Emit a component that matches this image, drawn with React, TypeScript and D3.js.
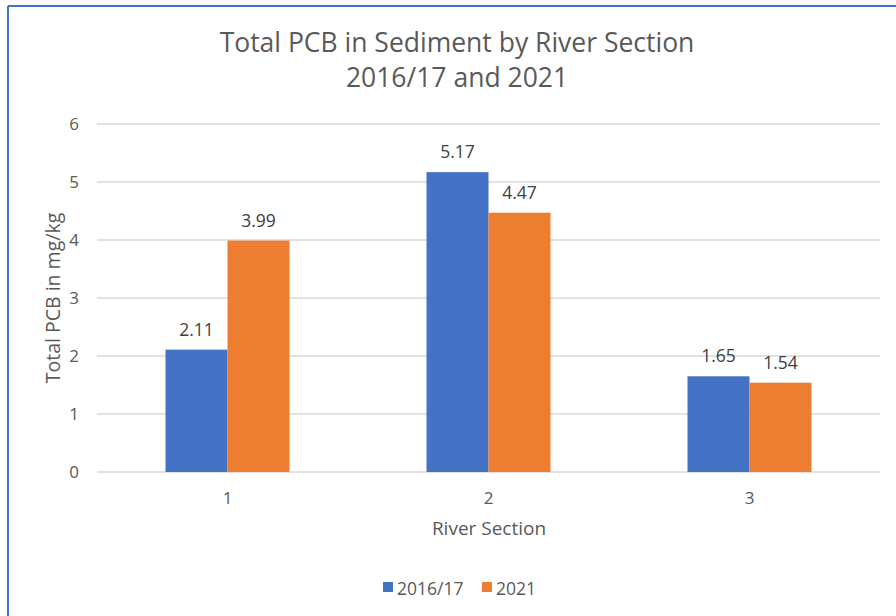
import React from "react";
import * as d3 from "d3";

const categories = ["1", "2", "3"];
const seriesNames = ["2016/17", "2021"];
const values2016 = [2.11, 5.17, 1.65];
const values2021 = [3.99, 4.47, 1.54];
const yTicks = [0, 1, 2, 3, 4, 5, 6];
const colors = ["#4472C4", "#ED7D31"];

const W = 896;
const H = 616;
const FONT = "'Open Sans', 'Noto Sans', sans-serif";
const TXT = "#595959";

export default function App() {
  const left = 97, right = 880, top = 124, bottom = 472;
  const x = d3.scaleBand<string>().domain(categories).range([left, right]).paddingInner(0).paddingOuter(0);
  const y = d3.scaleLinear().domain([0, 6]).range([bottom, top]);
  const barW = 62;
  const series = [values2016, values2021];

  return (
    <svg width={W} height={H} style={{ position: "absolute", left: 0, top: 0 }}>
      <rect x={0} y={0} width={W} height={H} fill="#fff" />
      <line x1={8} y1={6} x2={W} y2={6} stroke="#4472C4" strokeWidth={2} />
      <line x1={8} y1={6} x2={8} y2={H} stroke="#4472C4" strokeWidth={2} />
      <text x={457} y={52} textAnchor="middle" fontFamily={FONT} fontSize={26.5} fill={TXT}>
        Total PCB in Sediment by River Section
      </text>
      <text x={457} y={87} textAnchor="middle" fontFamily={FONT} fontSize={26.5} fill={TXT}>
        2016/17 and 2021
      </text>
      {yTicks.map((t) => (
        <g key={t}>
          <line x1={left} x2={right} y1={y(t)} y2={y(t)} stroke="#D9D9D9" strokeWidth={1.3} />
          <text x={79} y={y(t) + 6} textAnchor="end" fontFamily={FONT} fontSize={17} fill={TXT}>
            {t}
          </text>
        </g>
      ))}
      {categories.map((c, i) => {
        const cx = (x(c) as number) + x.bandwidth() / 2;
        return (
          <g key={c}>
            {series.map((s, j) => {
              const bx = cx - barW + j * barW;
              return (
                <g key={j}>
                  <rect x={bx} y={y(s[i])} width={barW} height={bottom - y(s[i])} fill={colors[j]} />
                  <text x={bx + barW / 2} y={y(s[i]) - 14} textAnchor="middle" fontFamily={FONT} fontSize={17.5} fill="#404040">
                    {s[i].toFixed(2)}
                  </text>
                </g>
              );
            })}
            <text x={cx} y={504} textAnchor="middle" fontFamily={FONT} fontSize={17} fill={TXT}>
              {c}
            </text>
          </g>
        );
      })}
      <text x={489} y={535} textAnchor="middle" fontFamily={FONT} fontSize={19} fill={TXT}>
        River Section
      </text>
      <text transform={`translate(60,298) rotate(-90)`} textAnchor="middle" fontFamily={FONT} fontSize={19.5} fill={TXT}>
        Total PCB in mg/kg
      </text>
      {seriesNames.map((n, j) => {
        const lx = j === 0 ? 383 : 482;
        return (
          <g key={n}>
            <rect x={lx} y={582} width={10} height={10} fill={colors[j]} />
            <text x={lx + 14} y={595} fontFamily={FONT} fontSize={17.5} fill={TXT}>
              {n}
            </text>
          </g>
        );
      })}
    </svg>
  );
}
